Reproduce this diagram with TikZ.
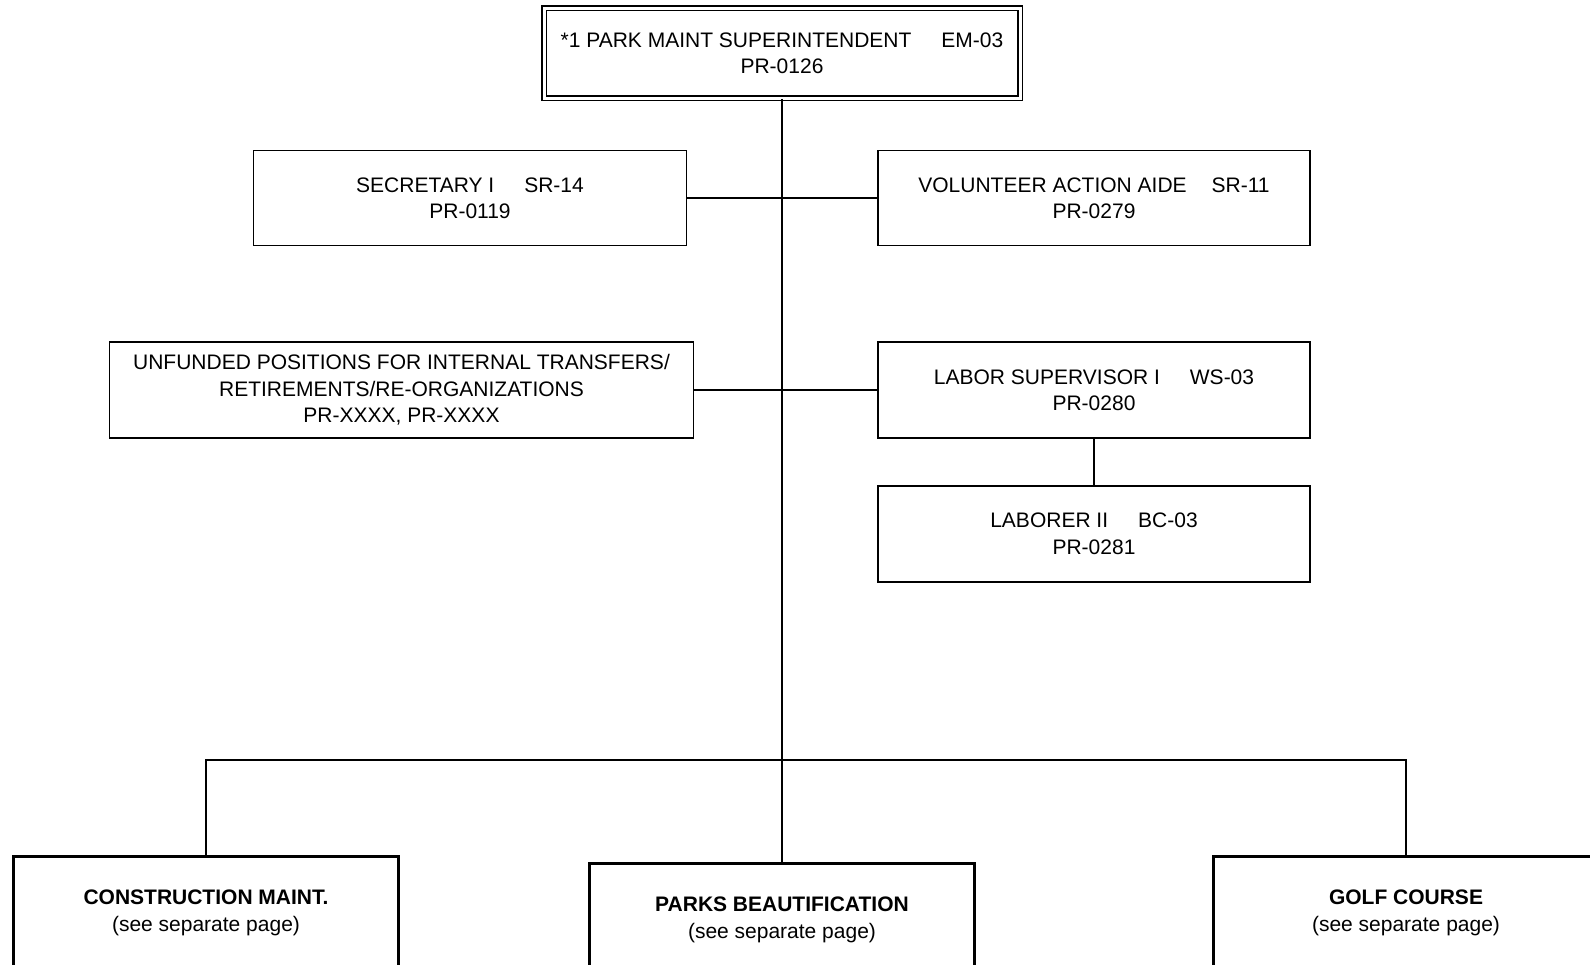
\documentclass[tikz,border=0pt]{standalone}
\usepackage{fontspec}
\setmainfont{Liberation Sans}
\usetikzlibrary{positioning}

\tikzset{
    posbox/.style={draw, line width=1.7pt, inner sep=0pt, align=center,
        minimum width=432pt, minimum height=95pt,
        font=\fontsize{21}{26.4}\selectfont},
    unitbox/.style={draw, line width=3pt, inner sep=0pt, align=center,
        minimum width=385pt, minimum height=114pt,
        font=\fontsize{21}{26.4}\selectfont},
    link/.style={line width=1.7pt}
}

\begin{document}
\begin{tikzpicture}[x=1pt, y=-1pt]
    \path[use as bounding box, clip] (0,0) rectangle (1590,964);
    \fill[white] (0,0) rectangle (1590,964);
    % head of the unit
    \node (super) [posbox, double, line width=1.5pt, double distance=3pt,
        minimum width=476pt, minimum height=90pt] at (782,53)
        {*1 PARK MAINT SUPERINTENDENT\hspace{30pt}EM-03\\PR-0126};
    % staff positions
    \node (sec) [posbox, minimum width=433pt] at (470,198) {SECRETARY I\hspace{30pt}SR-14\\PR-0119};
    \node (vol) [posbox] at (1094,198) {VOLUNTEER ACTION AIDE\hspace{25pt}SR-11\\PR-0279};
    \node (unf) [posbox, minimum width=584pt, minimum height=96pt] at (401.5,390)
        {UNFUNDED POSITIONS FOR INTERNAL TRANSFERS/\\RETIREMENTS/RE-ORGANIZATIONS\\PR-XXXX, PR-XXXX};
    \node (labsup) [posbox, minimum height=96pt] at (1094,390) {LABOR SUPERVISOR I\hspace{30pt}WS-03\\PR-0280};
    \node (labr) [posbox, minimum height=96pt, below=46pt of labsup] {LABORER II\hspace{30pt}BC-03\\PR-0281};
    % divisions (see separate pages)
    \node (cons) [unitbox] at (206,913) {\textbf{CONSTRUCTION MAINT.}\\(see separate page)};
    \node (beaut) [unitbox] at (782,920) {\textbf{PARKS BEAUTIFICATION}\\(see separate page)};
    \node (golf) [unitbox] at (1406,913) {\textbf{GOLF COURSE}\\(see separate page)};
    \coordinate (bus) at (782,760);

    \draw [link] (super.south) -- (beaut.north);
    \draw [link] (sec.east) -- (vol.west);
    \draw [link] (unf.east) -- (labsup.west);
    \draw [link] (labsup.south) -- (labr.north);
    \draw [link] (cons.north) |- (bus) -| (golf.north);
\end{tikzpicture}
\end{document}
